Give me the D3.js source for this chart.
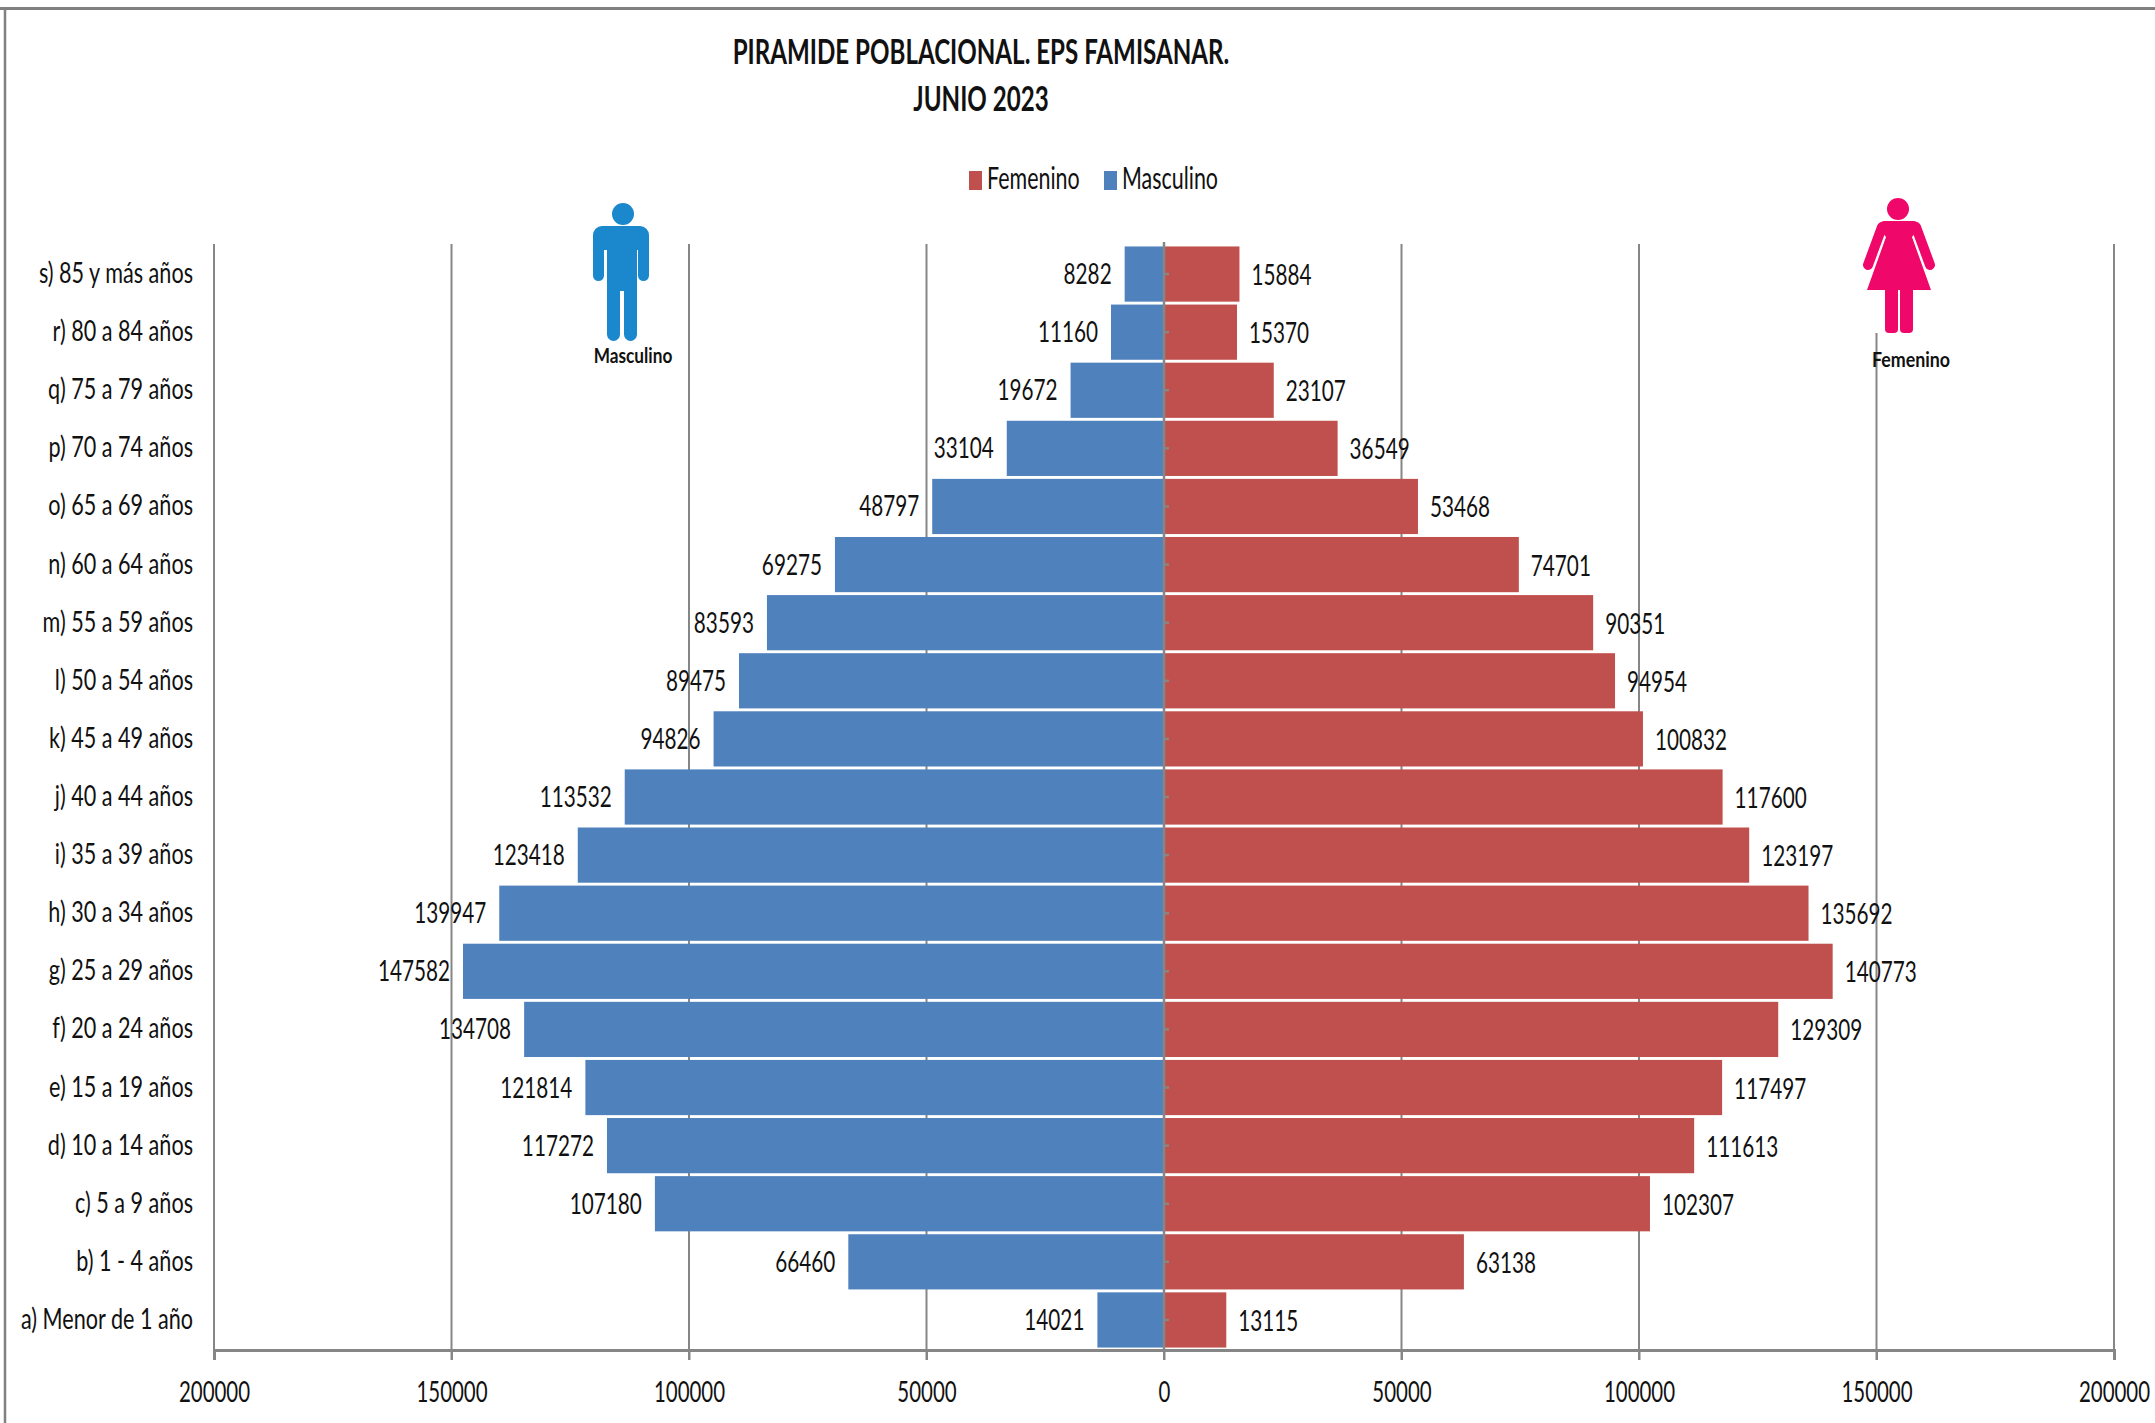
<!DOCTYPE html>
<html><head><meta charset="utf-8">
<script src="https://cdn.jsdelivr.net/npm/d3@7"></script>
<style>html,body{margin:0;background:#fff}svg{display:block}text{font-family:Lato,"Open Sans",sans-serif;fill:#111}</style>
</head><body><div id="c"></div>
<script>
const categories=["s) 85 y más años","r) 80 a 84 años","q) 75 a 79 años","p) 70 a 74 años","o) 65 a 69 años","n) 60 a 64 años","m) 55 a 59 años","l) 50 a 54 años","k) 45 a 49 años","j) 40 a 44 años","i) 35 a 39 años","h) 30 a 34 años","g) 25 a 29 años","f) 20 a 24 años","e) 15 a 19 años","d) 10 a 14 años","c) 5 a 9 años","b) 1 - 4 años","a) Menor de 1 año"];
const masculino=[8282,11160,19672,33104,48797,69275,83593,89475,94826,113532,123418,139947,147582,134708,121814,117272,107180,66460,14021];
const femenino=[15884,15370,23107,36549,53468,74701,90351,94954,100832,117600,123197,135692,140773,129309,117497,111613,102307,63138,13115];
const xTicks=[-200000,-150000,-100000,-50000,0,50000,100000,150000,200000];
const titleLines=["PIRAMIDE POBLACIONAL. EPS FAMISANAR.","JUNIO 2023"];

const W=2155,H=1423,K=0.73,GRAY="#868686",BLUE="#4F81BD",RED="#C0504D";
const svg=d3.select("#c").append("svg").attr("width",W).attr("height",H);
const x=d3.scaleLinear().domain([-200000,200000]).range([214,2114]);
const y=d3.scaleBand().domain(categories).range([245,1349]).paddingInner(0.05).paddingOuter(0.025);
const plotTop=245,plotBottom=1350;

function sq(t,px,py,k){t.attr("x",0).attr("y",0).attr("dy",null).attr("transform",`translate(${px},${py}) scale(${k||K},1)`);return t;}

// frame
svg.append("line").attr("x1",0).attr("x2",W).attr("y1",8.5).attr("y2",8.5).attr("stroke","#808080").attr("stroke-width",3);
svg.append("line").attr("x1",5).attr("x2",5).attr("y1",8).attr("y2",H).attr("stroke","#808080").attr("stroke-width",2.5);

// gridlines
svg.append("g").selectAll("line").data(xTicks).join("line")
 .attr("x1",d=>x(d)).attr("x2",d=>x(d)).attr("y1",plotTop-1).attr("y2",plotBottom+10)
 .attr("stroke",GRAY).attr("stroke-width",2);

// bars
svg.append("g").selectAll("rect").data(masculino).join("rect")
 .attr("x",d=>x(-d)).attr("width",d=>x(0)-x(-d)).attr("y",(d,i)=>y(categories[i])).attr("height",y.bandwidth()).attr("fill",BLUE);
svg.append("g").selectAll("rect").data(femenino).join("rect")
 .attr("x",x(0)).attr("width",d=>x(d)-x(0)).attr("y",(d,i)=>y(categories[i])).attr("height",y.bandwidth()).attr("fill",RED);

// x axis
const ax=svg.append("g").attr("transform",`translate(0,${plotBottom})`)
 .call(d3.axisBottom(x).tickValues(xTicks).tickFormat(d=>Math.abs(d)).tickSize(10));
ax.select(".domain").attr("stroke",GRAY).attr("stroke-width",3);
ax.selectAll(".tick line").attr("stroke",GRAY).attr("stroke-width",2);
ax.selectAll(".tick text").each(function(){sq(d3.select(this),0,52).attr("font-size",28).attr("text-anchor","middle");});

// category axis on centre line
const ay=svg.append("g").attr("transform",`translate(${x(0)},0)`)
 .call(d3.axisRight(y).tickSize(5).tickFormat(""));
ay.select(".domain").attr("stroke",GRAY).attr("stroke-width",2.5).attr("d",`M0,${plotTop-3}V${plotBottom}`);
ay.selectAll(".tick line").attr("stroke",GRAY).attr("stroke-width",2.5);

// category labels
svg.append("g").selectAll("text").data(categories).join("text")
 .attr("font-size",29).attr("text-anchor","end").text(d=>d)
 .each(function(d){sq(d3.select(this),193,y(d)+y.bandwidth()/2+9,0.745);});

// data labels
svg.append("g").selectAll("text").data(masculino).join("text")
 .attr("font-size",28).attr("text-anchor","end").text(d=>d)
 .each(function(d,i){sq(d3.select(this),x(-d)-13,y(categories[i])+y.bandwidth()/2+10,0.74);});
svg.append("g").selectAll("text").data(femenino).join("text")
 .attr("font-size",28).attr("text-anchor","start").text(d=>d)
 .each(function(d,i){sq(d3.select(this),x(d)+12,y(categories[i])+y.bandwidth()/2+11,0.74);});

// title
svg.append("g").selectAll("text").data(titleLines).join("text")
 .attr("font-size",34).attr("font-weight",700).attr("text-anchor","middle").text(d=>d)
 .each(function(d,i){sq(d3.select(this),981,64+i*47,0.71);});

// legend
const legend=[["Femenino",RED,969],["Masculino",BLUE,1104]];
const lg=svg.append("g").selectAll("g").data(legend).join("g");
lg.append("rect").attr("x",d=>d[2]).attr("y",171).attr("width",13).attr("height",19).attr("fill",d=>d[1]);
lg.append("text").attr("font-size",30).text(d=>d[0]).each(function(d){sq(d3.select(this),d[2]+18,189,0.715);});

// pictograms
const MAN="#1B87CC",WOMAN="#F0076A";
const m=svg.append("g").attr("fill",MAN).attr("transform","translate(0,1)");
m.append("circle").attr("cx",623).attr("cy",213).attr("r",11);
m.append("rect").attr("x",593).attr("y",225).attr("width",56).attr("height",24).attr("rx",9);
m.append("rect").attr("x",593).attr("y",235).attr("width",11).attr("height",45).attr("rx",5.5);
m.append("rect").attr("x",638).attr("y",235).attr("width",11).attr("height",45).attr("rx",5.5);
m.append("rect").attr("x",607).attr("y",230).attr("width",30).attr("height",60);
m.append("rect").attr("x",607).attr("y",270).attr("width",13).attr("height",70).attr("rx",6.5);
m.append("rect").attr("x",624).attr("y",270).attr("width",13).attr("height",70).attr("rx",6.5);
svg.append("text").attr("font-size",21).attr("font-weight",700).attr("text-anchor","middle").text("Masculino")
 .each(function(){sq(d3.select(this),633,363,0.82);});

svg.append("rect").attr("x",1860).attr("y",190).attr("width",80).attr("height",143).attr("fill","#fff");
const f=svg.append("g").attr("fill",WOMAN).attr("transform","translate(0,1)");
f.append("circle").attr("cx",1898).attr("cy",208).attr("r",11);
f.append("path").attr("d","M1884,220H1914Q1918,220 1920,226L1912,236L1931,289H1867L1886,236L1878,226Q1880,220 1884,220Z");
f.append("line").attr("x1",1882).attr("y1",226).attr("x2",1868).attr("y2",264).attr("stroke",WOMAN).attr("stroke-width",10).attr("stroke-linecap","round");
f.append("line").attr("x1",1916).attr("y1",226).attr("x2",1930).attr("y2",264).attr("stroke",WOMAN).attr("stroke-width",10).attr("stroke-linecap","round");
f.append("rect").attr("x",1885).attr("y",280).attr("width",13).attr("height",52).attr("rx",4);
f.append("rect").attr("x",1900).attr("y",280).attr("width",13).attr("height",52).attr("rx",4);
svg.append("text").attr("font-size",21).attr("font-weight",700).attr("text-anchor","middle").text("Femenino")
 .each(function(){sq(d3.select(this),1911,367,0.85);});
</script></body></html>
